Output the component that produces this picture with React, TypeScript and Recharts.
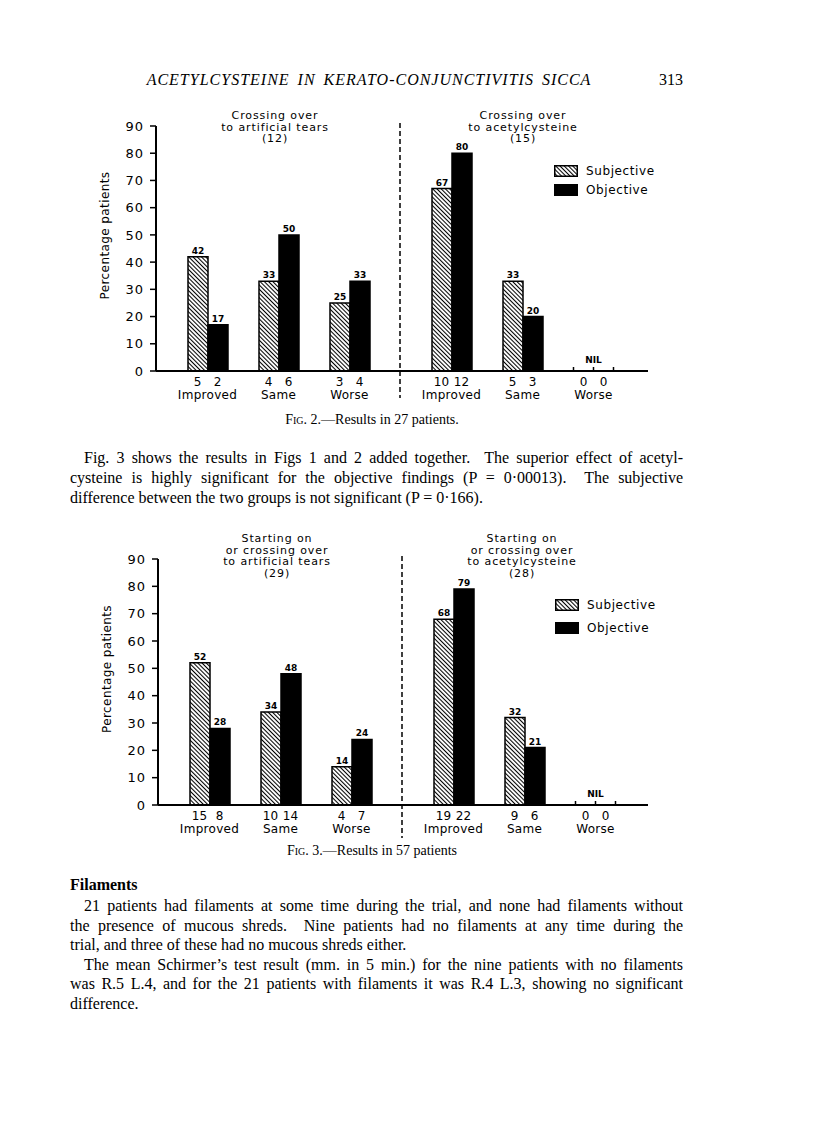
import { BarChart, Bar, XAxis, YAxis, LabelList, Legend, Label } from "recharts";

const outcomes = ["Improved", "Same", "Worse"];
const seriesNames = ["Subjective", "Objective"];
const yTicks = [0, 10, 20, 30, 40, 50, 60, 70, 80, 90];

// Fig. 2 - crossing over to artificial tears (12)
const fig2TearsSubjective = [42, 33, 25];
const fig2TearsObjective = [17, 50, 33];
const fig2TearsSubjN = [5, 4, 3];
const fig2TearsObjN = [2, 6, 4];
// Fig. 2 - crossing over to acetylcysteine (15)
const fig2AcetylSubjective = [67, 33, 0];
const fig2AcetylObjective = [80, 20, 0];
const fig2AcetylSubjN = [10, 5, 0];
const fig2AcetylObjN = [12, 3, 0];

// Fig. 3 - starting on or crossing over to artificial tears (29)
const fig3TearsSubjective = [52, 34, 14];
const fig3TearsObjective = [28, 48, 24];
const fig3TearsSubjN = [15, 10, 4];
const fig3TearsObjN = [8, 14, 7];
// Fig. 3 - starting on or crossing over to acetylcysteine (28)
const fig3AcetylSubjective = [68, 32, 0];
const fig3AcetylObjective = [79, 21, 0];
const fig3AcetylSubjN = [19, 9, 0];
const fig3AcetylObjN = [22, 6, 0];

const SANS = '"DejaVu Sans", sans-serif';
const SERIF = '"Liberation Serif", "Times New Roman", serif';
const BAR = 20;
const TOP_M = 20;
const X_H = 40;
const Y_W = 68;

type Row = { name: string; subjective: number; objective: number; subjN: number; objN: number };

const makeRows = (s: number[], o: number[], sn: number[], on: number[]): Row[] =>
  outcomes.map((name, i) => ({ name, subjective: s[i], objective: o[i], subjN: sn[i], objN: on[i] }));

const OutcomeTick = (props: any) => {
  const { x, y, payload, rows } = props;
  const r: Row | undefined = rows.find((d: Row) => d.name === payload.value);
  if (!r) return null;
  const nil = r.subjective === 0 && r.objective === 0;
  return (
    <g fontFamily={SANS} fill="#000">
      {nil && (
        <g stroke="#000" strokeWidth={1.5}>
          <line x1={x - BAR} x2={x - BAR} y1={y} y2={y - 4} />
          <line x1={x} x2={x} y1={y} y2={y - 4} />
          <line x1={x + BAR} x2={x + BAR} y1={y} y2={y - 4} />
        </g>
      )}
      {nil && (
        <text x={x} y={y - 8} textAnchor="middle" fontSize={9} fontWeight="bold" stroke="none">
          NIL
        </text>
      )}
      <text x={x - BAR / 2} y={y + 15} textAnchor="middle" fontSize={12}>
        {r.subjN}
      </text>
      <text x={x + BAR / 2} y={y + 15} textAnchor="middle" fontSize={12}>
        {r.objN}
      </text>
      <text x={x} y={y + 28} textAnchor="middle" fontSize={12} letterSpacing={0.3}>
        {r.name}
      </text>
    </g>
  );
};

const valueLabel = (p: any) => {
  const vb = p.viewBox ?? p;
  const x = vb.x ?? p.x;
  const y = vb.y ?? p.y;
  const w = vb.width ?? p.width;
  if (!p.value) return null;
  return (
    <text x={x + w / 2} y={y - 3} textAnchor="middle" fontSize={9} fontWeight="bold" fontFamily={SANS} fill="#000">
      {p.value}
    </text>
  );
};

const renderLegend = (rowH: number) => (props: any) => {
  const items = [...(props.payload || [])].sort(
    (a: any, b: any) => seriesNames.indexOf(a.value) - seriesNames.indexOf(b.value)
  );
  return (
    <div style={{ fontFamily: SANS, fontSize: 12, color: "#000" }}>
      {items.map((p: any) => (
        <div key={p.value} style={{ display: "flex", alignItems: "center", height: rowH }}>
          <svg width={24} height={12} style={{ display: "block" }}>
            <rect x={0.75} y={0.75} width={22.5} height={10.5} fill={p.color} stroke="#000" strokeWidth={1.5} />
          </svg>
          <span style={{ marginLeft: 8, letterSpacing: 0.6 }}>{p.value}</span>
        </div>
      ))}
    </div>
  );
};

type HalfProps = {
  rows: Row[];
  uid: string;
  left: number;
  plotTop: number;
  plotH: number;
  width: number;
  withAxis: boolean;
  padL: number;
  padR: number;
  legend?: { x: number; y: number; rowH: number };
};

function Half({ rows, uid, left, plotTop, plotH, width, withAxis, padL, padR, legend }: HalfProps) {
  const height = TOP_M + plotH + X_H;
  return (
    <div style={{ position: "absolute", left, top: plotTop - TOP_M }}>
      <BarChart
        width={width}
        height={height}
        data={rows}
        margin={{ top: TOP_M, right: 0, bottom: 0, left: 0 }}
        barGap={0}
        barSize={BAR}
      >
        <defs>
          <pattern id={uid} width={3} height={3} patternUnits="userSpaceOnUse" patternTransform="rotate(-45)">
            <rect width={3} height={3} fill="#fff" />
            <line x1={0.5} y1={0} x2={0.5} y2={3} stroke="#000" strokeWidth={1.1} />
          </pattern>
        </defs>
        <XAxis
          dataKey="name"
          height={X_H}
          interval={0}
          padding={{ left: padL, right: padR }}
          axisLine={{ stroke: "#000", strokeWidth: 2 }}
          tickLine={false}
          tickSize={0}
          tickMargin={0}
          tick={(p: any) => <OutcomeTick {...p} rows={rows} />}
        />
        <YAxis
          hide={!withAxis}
          width={Y_W}
          domain={[0, 90]}
          ticks={yTicks}
          interval={0}
          axisLine={{ stroke: "#000", strokeWidth: 2 }}
          tickLine={{ stroke: "#000", strokeWidth: 1.5 }}
          tickSize={6}
          tickMargin={6}
          tick={{ fill: "#000", fontSize: 13, fontFamily: SANS, letterSpacing: 1 }}
        >
          {withAxis && (
            <Label
              content={(p: any) => {
                const vb = p.viewBox;
                const lx = vb.x + 21;
                const ly = vb.y + vb.height / 2 - 13;
                return (
                  <text
                    x={lx}
                    y={ly}
                    transform={`rotate(-90 ${lx} ${ly})`}
                    textAnchor="middle"
                    fontSize={12}
                    fontFamily={SANS}
                    letterSpacing={0.4}
                    fill="#000"
                  >
                    Percentage patients
                  </text>
                );
              }}
            />
          )}
        </YAxis>
        <Bar dataKey="subjective" name="Subjective" fill={`url(#${uid})`} stroke="#000" strokeWidth={1.5} isAnimationActive={false}>
          <LabelList dataKey="subjective" content={valueLabel} />
        </Bar>
        <Bar dataKey="objective" name="Objective" fill="#000" stroke="#000" strokeWidth={1.5} isAnimationActive={false}>
          <LabelList dataKey="objective" content={valueLabel} />
        </Bar>
        {legend && (
          <Legend
            layout="vertical"
            align="center"
            verticalAlign="middle"
            wrapperStyle={{ position: "absolute", left: legend.x, top: legend.y, width: 110, height: legend.rowH * 2 }}
            content={renderLegend(legend.rowH)}
          />
        )}
      </BarChart>
    </div>
  );
}

const Dashed = ({ x, y1, y2 }: { x: number; y1: number; y2: number }) => (
  <svg style={{ position: "absolute", left: x - 2, top: y1 }} width={4} height={y2 - y1}>
    <line x1={2} x2={2} y1={0} y2={y2 - y1} stroke="#000" strokeWidth={1.5} strokeDasharray="5 3" />
  </svg>
);

const Title = ({ cx, top, lines }: { cx: number; top: number; lines: string[] }) => (
  <div
    style={{
      position: "absolute",
      left: cx - 110,
      top,
      width: 220,
      textAlign: "center",
      fontFamily: SANS,
      fontSize: 11,
      lineHeight: "11.5px",
      letterSpacing: 0.9,
      color: "#000",
    }}
  >
    {lines.map((l) => (
      <div key={l}>{l}</div>
    ))}
  </div>
);

const Caption = ({ top, num, text }: { top: number; num: string; text: string }) => (
  <div
    style={{
      position: "absolute",
      left: 222,
      width: 300,
      top,
      textAlign: "center",
      fontFamily: SERIF,
      fontSize: 14,
      color: "#000",
    }}
  >
    <span style={{ fontVariant: "small-caps" }}>Fig.</span> {num}.—{text}
  </div>
);

const TextLine = ({ text, indent, last }: { text: string; indent?: boolean; last?: boolean }) => (
  <div
    style={{
      paddingLeft: indent ? 14 : 0,
      textAlign: last ? "left" : "justify",
      textAlignLast: last ? "left" : "justify",
      whiteSpace: "nowrap",
    }}
  >
    {text}
  </div>
);

const textBlock = {
  position: "absolute" as const,
  left: 70,
  width: 613,
  fontFamily: SERIF,
  fontSize: 16,
  color: "#000",
};

export default function App() {
  return (
    <div style={{ position: "absolute", left: 0, top: 0, width: 816, height: 1146, background: "#fff", overflow: "hidden" }}>
      {/* running head */}
      <div style={{ position: "absolute", left: 120, width: 498, top: 71, textAlign: "center", fontFamily: SERIF, fontStyle: "italic", fontSize: 16, letterSpacing: 1, wordSpacing: 3 }}>
        ACETYLCYSTEINE IN KERATO-CONJUNCTIVITIS SICCA
      </div>
      <div style={{ position: "absolute", left: 633, width: 50, top: 71, textAlign: "right", fontFamily: SERIF, fontSize: 16 }}>313</div>

      {/* Fig. 2 */}
      <Title cx={275} top={110} lines={["Crossing over", "to artificial tears", "(12)"]} />
      <Title cx={523} top={110} lines={["Crossing over", "to acetylcysteine", "(15)"]} />
      <Half
        rows={makeRows(fig2TearsSubjective, fig2TearsObjective, fig2TearsSubjN, fig2TearsObjN)}
        uid="hatch2a"
        left={88}
        plotTop={126}
        plotH={245}
        width={312}
        withAxis
        padL={16}
        padR={15}
      />
      <Half
        rows={makeRows(fig2AcetylSubjective, fig2AcetylObjective, fig2AcetylSubjN, fig2AcetylObjN)}
        uid="hatch2b"
        left={400}
        plotTop={126}
        plotH={245}
        width={248}
        withAxis={false}
        padL={16}
        padR={19}
        legend={{ x: 154, y: 55.5, rowH: 19 }}
      />
      <Dashed x={400} y1={123} y2={398} />
      <Caption top={412} num="2" text="Results in 27 patients." />

      <div style={{ ...textBlock, top: 448, lineHeight: "20px" }}>
        <TextLine indent text={"Fig. 3 shows the results in Figs 1 and 2 added together.\u00a0 The superior effect of acetyl-"} />
        <TextLine text={"cysteine is highly significant for the objective findings (P = 0·00013).\u00a0 The subjective"} />
        <TextLine last text="difference between the two groups is not significant (P = 0·166)." />
      </div>

      {/* Fig. 3 */}
      <Title cx={277} top={533} lines={["Starting on", "or crossing over", "to artificial tears", "(29)"]} />
      <Title cx={522} top={533} lines={["Starting on", "or crossing over", "to acetylcysteine", "(28)"]} />
      <Half
        rows={makeRows(fig3TearsSubjective, fig3TearsObjective, fig3TearsSubjN, fig3TearsObjN)}
        uid="hatch3a"
        left={90}
        plotTop={559}
        plotH={246}
        width={312}
        withAxis
        padL={16}
        padR={15}
      />
      <Half
        rows={makeRows(fig3AcetylSubjective, fig3AcetylObjective, fig3AcetylSubjN, fig3AcetylObjN)}
        uid="hatch3b"
        left={402}
        plotTop={559}
        plotH={246}
        width={246}
        withAxis={false}
        padL={16}
        padR={17}
        legend={{ x: 153, y: 54.5, rowH: 23 }}
      />
      <Dashed x={402} y1={556} y2={838} />
      <Caption top={843} num="3" text="Results in 57 patients" />

      <div style={{ ...textBlock, top: 875, fontWeight: "bold", lineHeight: "20px" }}>Filaments</div>
      <div style={{ ...textBlock, top: 896, lineHeight: "19.6px" }}>
        <TextLine indent text="21 patients had filaments at some time during the trial, and none had filaments without" />
        <TextLine text={"the presence of mucous shreds.\u00a0 Nine patients had no filaments at any time during the"} />
        <TextLine last text="trial, and three of these had no mucous shreds either." />
        <TextLine indent text="The mean Schirmer’s test result (mm. in 5 min.) for the nine patients with no filaments" />
        <TextLine text="was R.5 L.4, and for the 21 patients with filaments it was R.4 L.3, showing no significant" />
        <TextLine last text="difference." />
      </div>
    </div>
  );
}
